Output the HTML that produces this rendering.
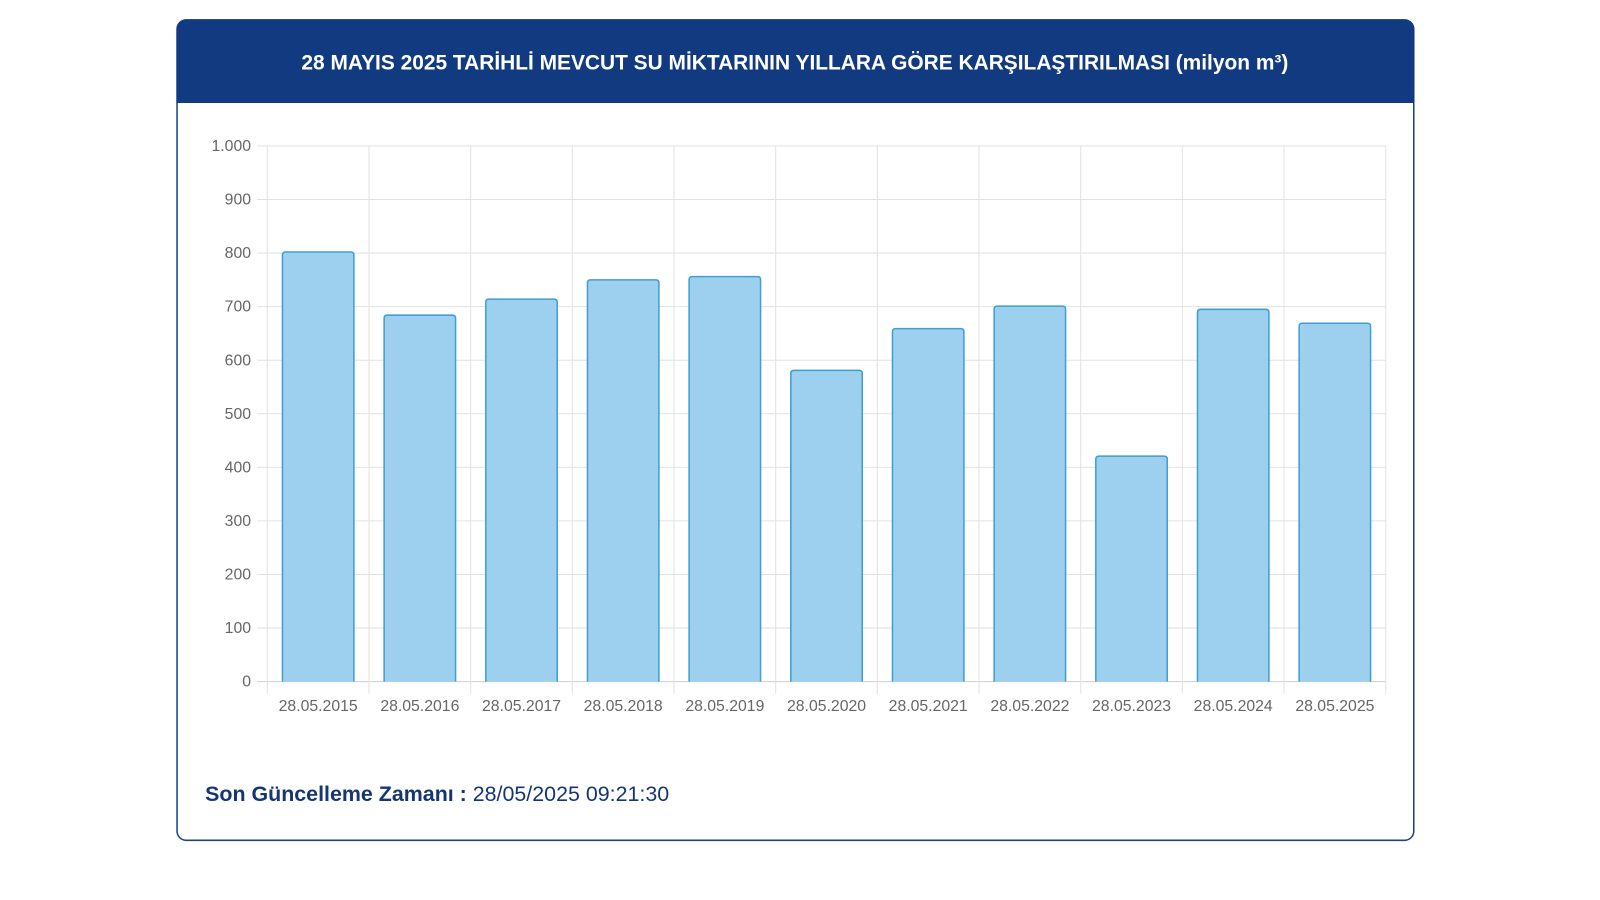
<!DOCTYPE html>
<html><head><meta charset="utf-8"><style>
body{margin:0;width:1600px;height:900px;background:#fff;font-family:"Liberation Sans",sans-serif;overflow:hidden}
</style></head><body>
<svg width="1600" height="900" xmlns="http://www.w3.org/2000/svg" style="position:absolute;left:0;top:0">
<g transform="scale(1.0204)">
<rect x="173.5" y="19.5" width="1212" height="804" rx="9" fill="#fff" stroke="#1d4288" stroke-width="1.5"/>
<path d="M173 101 V29 a10 10 0 0 1 10 -10 H1376 a10 10 0 0 1 10 10 V101 Z" fill="#123a80"/>
<text x="779" y="68" text-anchor="middle" fill="#fff" font-size="20.5" font-weight="bold" font-family="Liberation Sans, sans-serif">28 MAYIS 2025 TARİHLİ MEVCUT SU MİKTARININ YILLARA GÖRE KARŞILAŞTIRILMASI (milyon m³)</text>
<g id="grid" stroke="#e2e2e2" stroke-width="1"></g>
<g id="bars"></g>
<g id="lab" fill="#666" font-size="15.5"></g>
<text x="201" y="785" font-size="21" fill="#153672"><tspan font-weight="bold">Son Güncelleme Zamanı :</tspan> 28/05/2025 09:21:30</text>
</g>
</svg>
<script>
const ns="http://www.w3.org/2000/svg";
function el(p,t,a,txt){const e=document.createElementNS(ns,t);for(const k in a)e.setAttribute(k,a[k]);if(txt!=null)e.textContent=txt;document.getElementById(p).appendChild(e);}
const x0=262,x1=1358,y0=668,yt=143,cw=(x1-x0)/11;
for(let i=0;i<=10;i++){const y=y0-i*(y0-yt)/10;el("grid","line",{x1:252,x2:x1,y1:y,y2:y,stroke:i==0?"#cfcfcf":"#e2e2e2"});
el("lab","text",{x:246,y:y+5,"text-anchor":"end"},i==10?"1.000":String(i*100));}
for(let i=0;i<=11;i++){const x=x0+i*cw;el("grid","line",{x1:x,x2:x,y1:yt,y2:680});}
const v=[802,684,714,750,756,581,659,701,421,695,669];
v.forEach((d,i)=>{const cx=x0+cw*(i+.5),h=d*(y0-yt)/1000;
el("bars","path",{d:`M${cx-35} ${y0} V${y0-h+3} q0 -3 3 -3 H${cx+32} q3 0 3 3 V${y0}`,fill:"#9dd0ee",stroke:"#3f9fd0","stroke-width":1.5});
el("lab","text",{x:cx,y:697,"text-anchor":"middle"},"28.05."+(2015+i));});
</script>
</body></html>
